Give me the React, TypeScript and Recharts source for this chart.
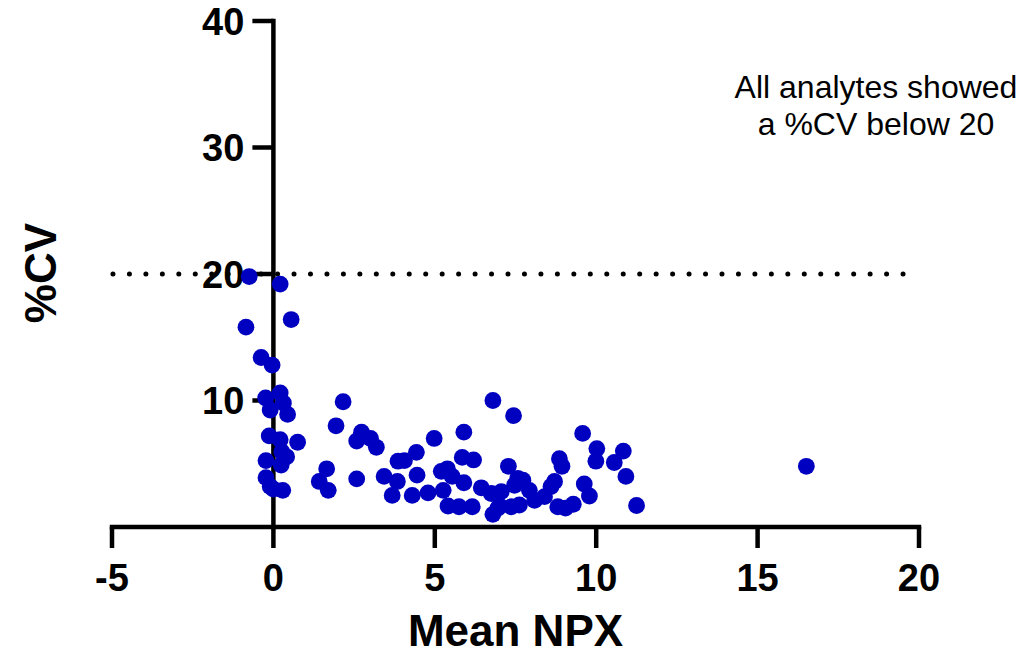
import React from 'react';
import { ScatterChart, Scatter, XAxis, YAxis, ReferenceLine } from 'recharts';

const FONT = '"Liberation Sans", Arial, Helvetica, sans-serif';
const POINT_COLOR = '#0000C0';

// Mean NPX values
const meanNpx: number[] = [
  -0.75, 0.21, 0.55, -0.85, -0.38, -0.04, 0.21, -0.24, 0.31, -0.1, 0.44, -0.13, 0.21, 0.75,
  0.26, 0.41, -0.23, 0.24, -0.23, -0.1, 0.29, 0.0,
  1.65, 1.42, 1.7, 1.94, 2.16, 2.58, 2.73, 2.58, 3.01, 3.19, 3.43, 3.86, 4.06, 4.43,
  3.84, 3.68, 4.45, 4.3, 4.79, 4.98, 5.9, 6.8, 5.85, 6.2, 5.2, 5.39, 5.54, 5.9,
  5.26, 5.41, 5.75, 6.16, 6.44, 6.75, 6.8, 6.96, 7.44, 7.28, 7.06, 7.57, 7.73, 7.47,
  7.93, 8.09, 7.62, 7.37, 7.01, 8.4, 8.6, 8.71, 8.86, 8.94, 9.58, 10.02, 9.99, 10.56,
  10.84, 10.92, 9.63, 9.79, 8.81, 9.05, 9.29, 11.25, 16.51,
];
// %CV values
const cvValues: number[] = [
  19.8, 19.2, 16.4, 15.8, 13.4, 12.8, 10.6, 10.2, 9.8, 9.25, 8.9, 7.2, 6.9, 6.7,
  5.95, 5.55, 5.25, 4.9, 3.9, 3.2, 2.9, 3.0,
  4.6, 3.6, 2.9, 8.0, 9.9, 3.8, 7.5, 6.8, 7.0, 6.3, 4.0, 5.2, 5.25, 5.9,
  3.6, 2.5, 4.1, 2.5, 2.7, 7.0, 7.5, 10.0, 5.5, 5.3, 4.4, 4.6, 4.0, 3.5,
  2.9, 1.66, 1.6, 1.6, 3.1, 2.65, 1.0, 1.5, 8.8, 4.8, 2.8, 3.85, 3.7, 3.3,
  2.9, 2.1, 1.74, 1.6, 1.66, 2.4, 3.2, 3.6, 5.4, 4.8, 7.4, 6.2, 5.2, 5.1,
  6.0, 4.0, 3.4, 2.45, 1.6, 1.5, 1.8, 1.7, 4.8,
];

const xTicks: number[] = [-5, 0, 5, 10, 15, 20];
const yTicks: number[] = [10, 20, 30, 40];
const cvThreshold = 20;
const thresholdStart = -4.97;
const thresholdEnd = 19.55;

const points = meanNpx.map((x, i) => ({ x, y: cvValues[i] }));
const yTickData = yTicks.map((v) => ({ x: 0, y: v, label: String(v) }));

const PointShape = (props: any) => (
  <circle cx={props.cx} cy={props.cy} r={8.4} fill={POINT_COLOR} />
);

const YTickShape = (props: any) => (
  <g>
    <line x1={props.cx - 21} x2={props.cx} y1={props.cy} y2={props.cy} stroke="#000" strokeWidth={4.5} />
    <text
      x={props.cx - 29}
      y={props.cy}
      dy="0.36em"
      textAnchor="end"
      fontFamily={FONT}
      fontWeight={700}
      fontSize={38}
      fill="#000"
    >
      {props.payload.label}
    </text>
  </g>
);

export default function App() {
  return (
    <div style={{ position: 'absolute', left: 0, top: 0, width: 1033, height: 654, background: '#fff' }}>
      <ScatterChart
        width={1033}
        height={654}
        margin={{ top: 21, right: 114, bottom: 0, left: 112 }}
      >
        <XAxis
          type="number"
          dataKey="x"
          domain={[-5, 20]}
          ticks={xTicks}
          interval={0}
          height={127}
          tickSize={21}
          tickMargin={16}
          axisLine={{ stroke: '#000', strokeWidth: 4.5, strokeLinecap: 'square' }}
          tickLine={{ stroke: '#000', strokeWidth: 4.5 }}
          tick={{ fontSize: 38, fontWeight: 700, fill: '#000', fontFamily: FONT }}
          label={{
            value: 'Mean NPX',
            position: 'insideBottom',
            offset: 8,
            fontSize: 44,
            fontWeight: 700,
            fill: '#000',
            fontFamily: FONT,
          }}
        />
        <YAxis type="number" dataKey="y" domain={[0, 40]} hide />
        <ReferenceLine
          segment={[{ x: 0, y: 0 }, { x: 0, y: 40 }]}
          stroke="#000"
          strokeWidth={4.5}
          strokeLinecap="square"
        />
        <ReferenceLine
          segment={[{ x: thresholdStart, y: cvThreshold }, { x: thresholdEnd, y: cvThreshold }]}
          stroke="#000"
          strokeWidth={5}
          strokeDasharray="0 16.46"
          strokeLinecap="round"
        />
        <Scatter data={yTickData} shape={YTickShape} isAnimationActive={false} />
        <Scatter data={points} shape={PointShape} isAnimationActive={false} />
      </ScatterChart>
      <svg
        width={1033}
        height={654}
        style={{ position: 'absolute', left: 0, top: 0, pointerEvents: 'none' }}
      >
        <text
          transform="translate(40,273) rotate(-90)"
          textAnchor="middle"
          dy="0.36em"
          fontFamily={FONT}
          fontWeight={700}
          fontSize={44}
          fill="#000"
        >
          %CV
        </text>
        <text x={876} y={98} textAnchor="middle" fontFamily={FONT} fontSize={32} fill="#000">
          All analytes showed
        </text>
        <text x={876} y={135} textAnchor="middle" fontFamily={FONT} fontSize={32} fill="#000">
          a %CV below 20
        </text>
      </svg>
    </div>
  );
}
